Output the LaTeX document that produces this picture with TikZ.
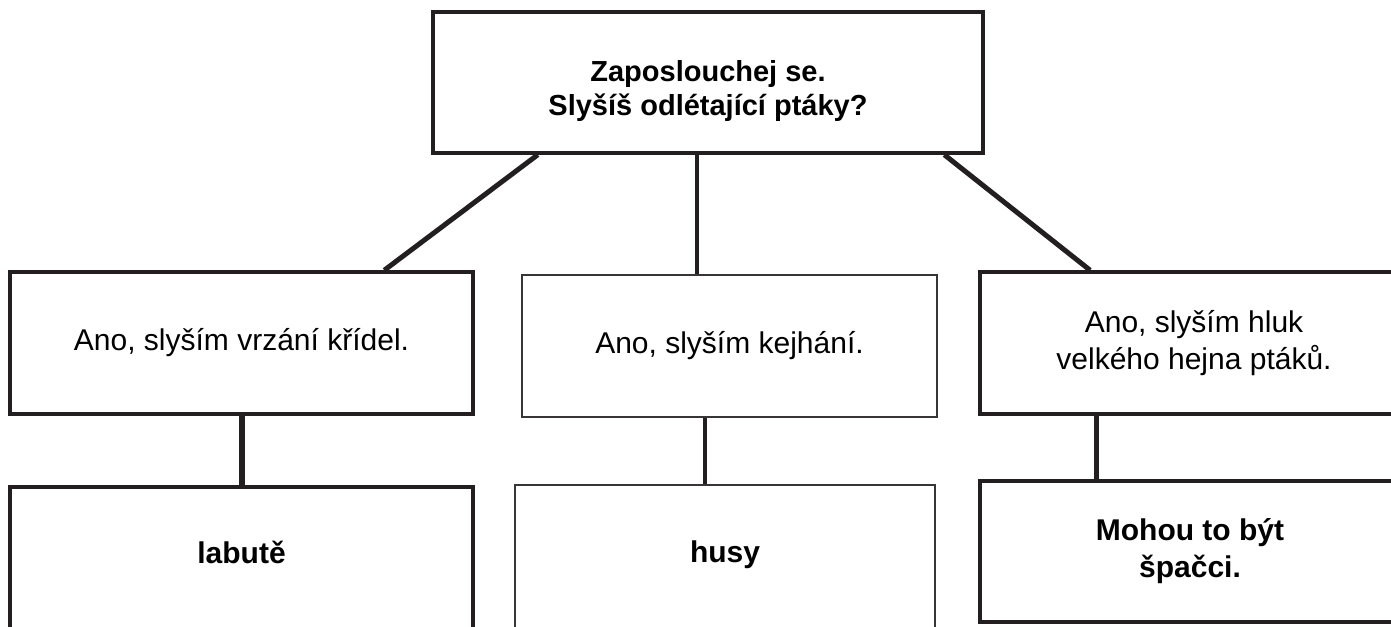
\documentclass[tikz,border=0pt]{standalone}
\usepackage{fontspec}
\setmainfont{Liberation Sans}
\definecolor{ink}{RGB}{35,31,32}
\definecolor{inkgray}{RGB}{55,53,54}

\begin{document}
\begin{tikzpicture}[x=1pt,y=-1pt,
        box/.style={draw=ink,line width=3.5pt,inner sep=0pt,align=center,font=\fontsize{30}{37}\selectfont},
        thinbox/.style={box,draw=inkgray,line width=2.5pt},
        answer/.style={box,font=\bfseries\fontsize{30}{37}\selectfont},
        link/.style={draw=ink,line width=5pt}]
        \useasboundingbox (0,0) rectangle (1391,626);

        \node[box,font=\bfseries\fontsize{29}{34}\selectfont,text height=72pt,text depth=7pt,minimum width=550pt,minimum height=141pt] (top) at (708,82.5) {Zaposlouchej se.\\Slyšíš odlétající ptáky?};

        \node[box,minimum width=463pt,minimum height=142pt] (vrzani) at (241.5,343) {Ano, slyším vrzání křídel.};
        \node[thinbox,minimum width=415pt,minimum height=142pt] (kejhani) at (729.5,346) {Ano, slyším kejhání.};
        \node[box,minimum width=428pt,minimum height=142pt] (hluk) at (1194,343) {Ano, slyším hluk\\ velkého hejna ptáků.};

        \node[answer,text height=24pt,text depth=15pt,minimum width=463pt,minimum height=143pt] (labute) at (241.5,558.5) {labutě};
        \node[thinbox,font=\bfseries\fontsize{30}{37}\selectfont,text height=24pt,text depth=15pt,minimum width=420pt,minimum height=145pt] (husy) at (725,557.5) {husy};
        \node[answer,minimum width=420pt,minimum height=141pt] (spacci) at (1190,551.5) {Mohou to být\\špačci.};

        \draw[link] (top.-157) -- (vrzani.27);
        \draw[link,line width=4pt] (top.-99) -- (top.-99 |- kejhani.north);
        \draw[link] (top.-17.5) -- (hluk.145);

        \coordinate (kh) at ([xshift=-24.5pt]kejhani.south);
        \coordinate (hl) at ([xshift=-98pt]hluk.south);
        \draw[link,line width=6pt] (vrzani.south) -- (labute.north);
        \draw[link,line width=4pt] (kh) -- (kh |- husy.north);
        \draw[link] (hl) -- (hl |- spacci.north);
    \end{tikzpicture}
\end{document}
